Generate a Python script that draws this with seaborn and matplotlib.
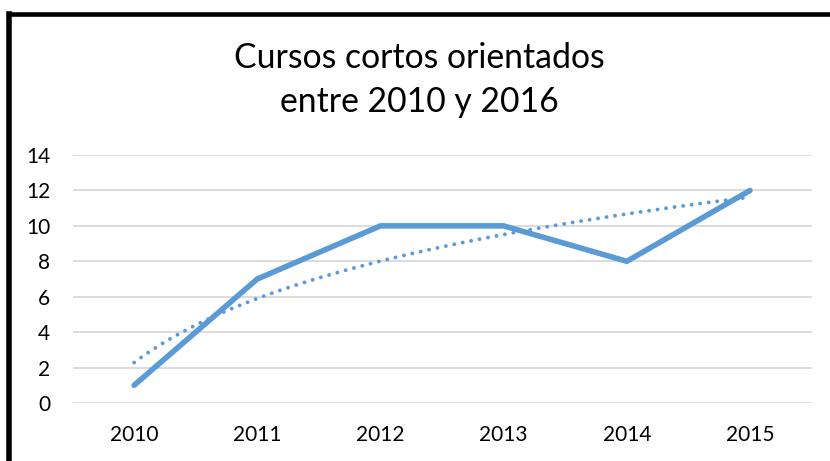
import seaborn as sns
import matplotlib.pyplot as plt
import numpy as np
import pandas as pd
from matplotlib.lines import Line2D

# data
years = ["2010", "2011", "2012", "2013", "2014", "2015"]
cursos = [1, 7, 10, 10, 8, 12]

sns.set_style("white")
plt.rcParams['font.family'] = ['Lato', 'DejaVu Sans']

fig = plt.figure(figsize=(8.3, 4.61), dpi=100)
ax = fig.add_axes([72.5 / 830, 1 - 403 / 461, (811.6 - 72.5) / 830, (403 - 155) / 461])

blue = "#5B9BD5"
df = pd.DataFrame({"pos": np.arange(len(years)), "cursos": cursos})
sns.lineplot(data=df, x="pos", y="cursos", ax=ax, color=blue, linewidth=4,
             solid_capstyle="round", solid_joinstyle="miter", zorder=3)

# logarithmic trendline like Excel's
n = np.arange(1, len(years) + 1)
b, a = np.polyfit(np.log(n), cursos, 1)
xs = np.linspace(1, len(years), 200)
ax.plot(xs - 1, a + b * np.log(xs), color=blue, linewidth=2.8,
        linestyle=(0, (0.01, 2.2)), dash_capstyle="round", zorder=2)

ax.set_xlim(-0.5, len(years) - 0.5)
ax.set_ylim(0, 14)
ax.set_yticks(range(0, 15, 2))
ax.set_xticks(range(len(years)))
ax.set_xticklabels(years)
ax.set_xlabel("")
ax.set_ylabel("")
ax.grid(axis="y", color="#D9D9D9", linewidth=1.3)
ax.set_axisbelow(True)
for s in ax.spines.values():
    s.set_visible(False)
ax.tick_params(axis="y", length=0, pad=16, labelsize=15, labelcolor="#000000")
ax.tick_params(axis="x", length=0, pad=16, labelsize=15, labelcolor="#000000")

fig.text(419 / 830, 1 - 80 / 461, "Cursos cortos orientados\nentre 2010 y 2016",
         ha="center", va="center", fontsize=24.3, linespacing=1.5, color="#000000")

# chart frame (left and top edges visible in the crop)
fig.add_artist(Line2D([9 / 830, 9 / 830], [0, 1 - 14 / 461], color="black",
                      linewidth=4, transform=fig.transFigure, solid_capstyle="projecting"))
fig.add_artist(Line2D([9 / 830, 1], [1 - 14 / 461, 1 - 14 / 461], color="black",
                      linewidth=3.3, transform=fig.transFigure, solid_capstyle="projecting"))

fig.savefig("out.png", dpi=100)
